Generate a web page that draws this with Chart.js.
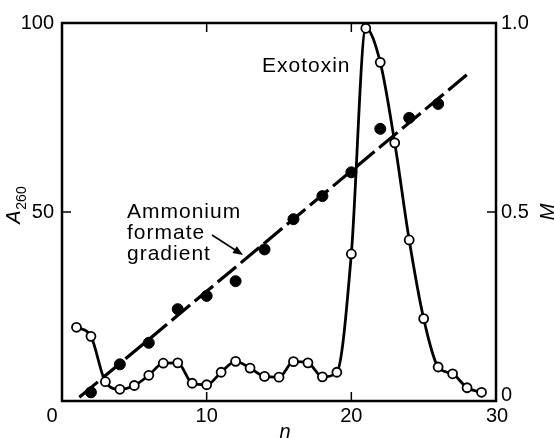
<!DOCTYPE html>
<html>
<head>
<meta charset="utf-8">
<script src="https://cdn.jsdelivr.net/npm/chart.js@4"></script>
<style>
  html, body { margin: 0; padding: 0; background: #fff; }
  canvas { display: block; }
</style>
</head>
<body>
<canvas id="myChart" width="554" height="438"></canvas>
<script>
// fraction number n, absorbance A260 (open circles)
var fractions = [1, 2, 3, 4, 5, 6, 7, 8, 9, 10, 11, 12, 13, 14, 15, 16, 17, 18, 19, 20, 21, 22, 23, 24, 25, 26, 27, 28, 29];
var a260 = [19.5, 17.1, 5.1, 3.1, 4.1, 6.8, 10.0, 10.1, 4.7, 4.3, 7.6, 10.5, 8.7, 6.5, 6.3, 10.4, 10.1, 6.4, 7.6, 38.9, 98.6, 89.6, 68.3, 42.6, 21.8, 9.0, 7.2, 3.5, 2.3];

// ammonium formate molarity M (filled circles)
var molFractions = [2, 4, 6, 8, 10, 12, 14, 16, 18, 20, 22, 24, 26];
var molarity = [0.023, 0.097, 0.154, 0.243, 0.278, 0.317, 0.401, 0.481, 0.542, 0.605, 0.720, 0.749, 0.786];

// fitted gradient line (dashed)
var gradientX = [1.2, 28.2];
var gradientM = [0.01, 0.87];

// axis ticks
var xTicks = [0, 10, 20, 30];
var xTickLabels = ['0', '10', '20', '30'];
var yTicks = [0, 50, 100];
var yTickLabels = ['0', '50', '100'];
var mTicks = [0, 0.5, 1.0];
var mTickLabels = ['0', '0.5', '1.0'];

function pts(xs, ys) {
    return xs.map(function(x, i) { return {x: x, y: ys[i]}; });
}

var FONT = '"Liberation Sans", Arial, sans-serif';

var decorations = {
    id: 'decorations',
    beforeDatasetsDraw: function(chart) {
        var ctx = chart.ctx, a = chart.chartArea;
        var sx = chart.scales.x, sy = chart.scales.y, sm = chart.scales.y2;
        ctx.save();
        ctx.strokeStyle = '#000';
        ctx.lineWidth = 2.5;
        ctx.strokeRect(a.left, a.top, a.right - a.left, a.bottom - a.top);
        // inward ticks
        var len = 9;
        ctx.beginPath();
        [10, 20].forEach(function(v) {
            var px = sx.getPixelForValue(v);
            ctx.moveTo(px, a.bottom); ctx.lineTo(px, a.bottom - len);
            ctx.moveTo(px, a.top); ctx.lineTo(px, a.top + len);
        });
        var py = sy.getPixelForValue(50);
        ctx.moveTo(a.left, py); ctx.lineTo(a.left + len, py);
        var pm = sm.getPixelForValue(0.5);
        ctx.moveTo(a.right, pm); ctx.lineTo(a.right - len, pm);
        ctx.lineWidth = 1.5;
        ctx.stroke();
        ctx.restore();
    },
    afterDraw: function(chart) {
        var ctx = chart.ctx, a = chart.chartArea;
        var sx = chart.scales.x, sy = chart.scales.y, sm = chart.scales.y2;
        ctx.save();
        ctx.fillStyle = '#000';
        ctx.font = '20px ' + FONT;
        ctx.textBaseline = 'middle';

        // x tick labels (0 shared with left axis, set lower-left)
        ctx.textAlign = 'center';
        xTicks.forEach(function(v, i) {
            if (v === 0) return;
            ctx.fillText(xTickLabels[i], sx.getPixelForValue(v) + (v === 30 ? 1 : 0), 416);
        });
        ctx.fillText('0', a.left - 10, 416);

        // left tick labels
        ctx.textAlign = 'right';
        yTicks.forEach(function(v, i) {
            if (v === 0) return;
            ctx.fillText(yTickLabels[i], a.left - 8, sy.getPixelForValue(v));
        });

        // right tick labels
        ctx.textAlign = 'left';
        mTicks.forEach(function(v, i) {
            var y = sm.getPixelForValue(v);
            if (v === 0) y -= 6;
            ctx.fillText(mTickLabels[i], a.right + 5, y);
        });

        // axis titles
        ctx.textAlign = 'center';
        ctx.font = 'italic 20px ' + FONT;
        ctx.fillText('n', (a.left + a.right) / 2 + 6, 432);

        ctx.save();
        ctx.translate(548, 212);
        ctx.rotate(-Math.PI / 2);
        ctx.fillText('M', 0, 0);
        ctx.restore();

        ctx.save();
        ctx.translate(14, 217);
        ctx.rotate(-Math.PI / 2);
        ctx.font = 'italic 20px ' + FONT;
        ctx.fillText('A', 0, 0);
        ctx.font = '14px ' + FONT;
        ctx.fillText('260', 19, 8);
        ctx.restore();

        // annotations
        ctx.font = '21px ' + FONT;
        ctx.letterSpacing = '1px';
        ctx.textAlign = 'left';
        ctx.textBaseline = 'alphabetic';
        ctx.fillText('Exotoxin', 262, 72);
        ctx.fillText('Ammonium', 127, 218);
        ctx.fillText('formate', 127, 239);
        ctx.fillText('gradient', 127, 260);

        // arrow to gradient line
        var x0 = 212, y0 = 235, x1 = 243, y1 = 255;
        var ang = Math.atan2(y1 - y0, x1 - x0);
        ctx.strokeStyle = '#000';
        ctx.lineWidth = 1.5;
        ctx.beginPath();
        ctx.moveTo(x0, y0);
        ctx.lineTo(x1 - 6 * Math.cos(ang), y1 - 6 * Math.sin(ang));
        ctx.stroke();
        ctx.beginPath();
        ctx.moveTo(x1, y1);
        ctx.lineTo(x1 - 10 * Math.cos(ang) + 4 * Math.sin(ang), y1 - 10 * Math.sin(ang) - 4 * Math.cos(ang));
        ctx.lineTo(x1 - 10 * Math.cos(ang) - 4 * Math.sin(ang), y1 - 10 * Math.sin(ang) + 4 * Math.cos(ang));
        ctx.closePath();
        ctx.fill();
        ctx.restore();
    }
};

var ctx = document.getElementById('myChart').getContext('2d');
var chart = new Chart(ctx, {
    type: 'scatter',
    data: {
        datasets: [{
            label: 'A260',
            data: pts(fractions, a260),
            yAxisID: 'y',
            showLine: true,
            borderColor: '#000',
            borderWidth: 2.8,
            tension: 0.4,
            cubicInterpolationMode: 'monotone',
            pointRadius: 4.5,
            pointBackgroundColor: '#fff',
            pointBorderColor: '#000',
            pointBorderWidth: 1.8
        }, {
            label: 'M',
            data: pts(molFractions, molarity),
            yAxisID: 'y2',
            showLine: false,
            pointRadius: 5.5,
            pointBackgroundColor: '#000',
            pointBorderColor: '#000'
        }, {
            label: 'gradient',
            data: pts(gradientX, gradientM),
            yAxisID: 'y2',
            showLine: true,
            borderColor: '#000',
            borderWidth: 3.2,
            borderDash: [24, 6],
            pointRadius: 0
        }]
    },
    options: {
        responsive: false,
        animation: false,
        layout: { padding: { left: 62, top: 23, right: 58, bottom: 37 } },
        plugins: { legend: { display: false }, tooltip: { enabled: false } },
        scales: {
            x: { type: 'linear', min: 0, max: 30, display: false },
            y: { min: 0, max: 100, display: false },
            y2: { min: 0, max: 1, display: false, position: 'right' }
        }
    },
    plugins: [decorations]
});
</script>
</body>
</html>
